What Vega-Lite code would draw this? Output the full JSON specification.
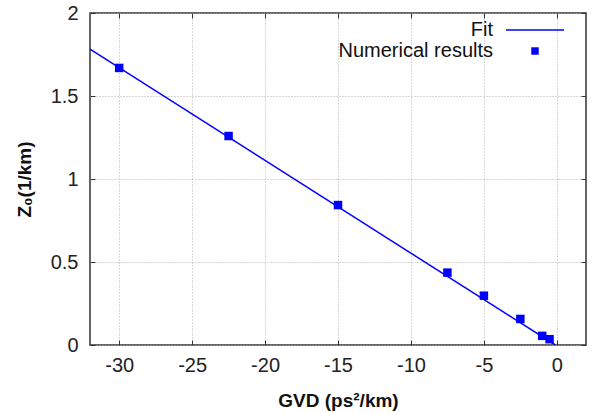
{
  "$schema": "https://vega.github.io/schema/vega-lite/v6.json",
  "width": 496,
  "height": 332,
  "autosize": {"type": "none"},
  "padding": {"left": 90, "top": 13, "right": 13, "bottom": 68},
  "config": {
    "font": "Liberation Sans",
    "view": {"stroke": "#333333", "strokeWidth": 1.5},
    "axis": {
      "domain": false,
      "grid": true,
      "gridColor": "#b0b0b0",
      "gridDash": [1, 2],
      "gridWidth": 1,
      "tickColor": "#333333",
      "tickSize": -5,
      "tickWidth": 1,
      "labelFontSize": 20,
      "labelColor": "#222222",
      "titleFontSize": 19,
      "titleFontWeight": "bold",
      "titleColor": "#111111"
    }
  },
  "layer": [
    {
      "data": {"values": [
        {"gvd": -32, "z0": 1.782, "series": "Fit"},
        {"gvd": -0.1, "z0": 0, "series": "Fit"}
      ]},
      "mark": {"type": "line", "strokeWidth": 1.5, "clip": true},
      "encoding": {
        "x": {"field": "gvd", "type": "quantitative", "scale": {"domain": [-32, 2], "nice": false, "zero": false},
          "axis": {"values": [-30, -25, -20, -15, -10, -5, 0], "labelExpr": "'' + datum.value", "title": "GVD (ps²/km)", "labelPadding": 15, "titlePadding": 16}},
        "y": {"field": "z0", "type": "quantitative", "scale": {"domain": [0, 2], "nice": false},
          "axis": {"values": [0, 0.5, 1, 1.5, 2], "labelExpr": "'' + datum.value", "title": "Z₀(1/km)", "labelPadding": 17, "titlePadding": 16}},
        "color": {"field": "series", "type": "nominal",
          "scale": {"domain": ["Fit", "Numerical results"], "range": ["#0000ff", "#0000ff"]},
          "legend": {
            "title": null,
            "orient": "none",
            "legendX": 435,
            "legendY": 7,
            "labelFontSize": 20,
            "labelColor": "#111111",
            "labelAlign": "right",
            "labelOffset": -52,
            "symbolSize": 64,
            "rowPadding": 1,
            "encode": {
              "symbols": {"update": {
                "shape": {"signal": "datum.value === 'Fit' ? 'stroke' : 'square'"},
                "size": {"signal": "datum.value === 'Fit' ? 3364 : 56"},
                "fill": {"value": "#0000ff"},
                "stroke": {"value": "#0000ff"},
                "strokeWidth": {"signal": "datum.value === 'Fit' ? 1.5 : 0"},
                "opacity": {"value": 1}
              }}
            }
          }}
      }
    },
    {
      "data": {"values": [
        {"gvd": -30, "z0": 1.669, "series": "Numerical results"},
        {"gvd": -22.5, "z0": 1.259, "series": "Numerical results"},
        {"gvd": -15, "z0": 0.843, "series": "Numerical results"},
        {"gvd": -7.5, "z0": 0.436, "series": "Numerical results"},
        {"gvd": -5, "z0": 0.297, "series": "Numerical results"},
        {"gvd": -2.5, "z0": 0.157, "series": "Numerical results"},
        {"gvd": -1.0, "z0": 0.055, "series": "Numerical results"},
        {"gvd": -0.5, "z0": 0.035, "series": "Numerical results"}
      ]},
      "mark": {"type": "square", "size": 72, "filled": true, "opacity": 1},
      "encoding": {
        "x": {"field": "gvd", "type": "quantitative",
          "axis": {"orient": "top", "values": [-30, -25, -20, -15, -10, -5, 0], "labels": false, "title": null, "grid": false}},
        "y": {"field": "z0", "type": "quantitative",
          "axis": {"orient": "right", "values": [0, 0.5, 1, 1.5, 2], "labels": false, "title": null, "grid": false}},
        "color": {"field": "series", "type": "nominal"}
      }
    }
  ],
  "resolve": {"axis": {"x": "independent", "y": "independent"}}
}
